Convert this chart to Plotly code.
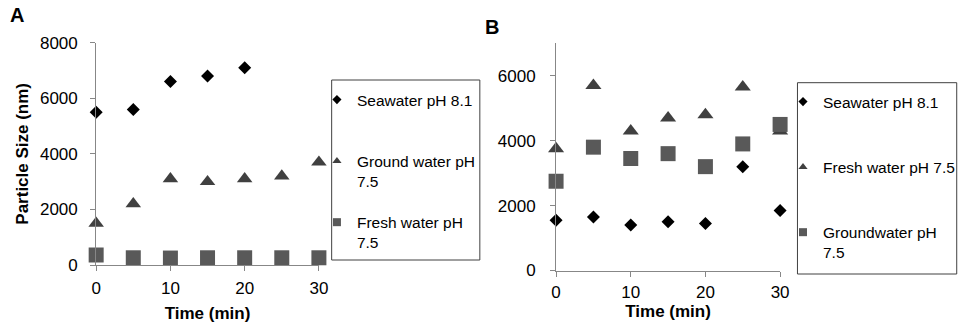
import plotly.graph_objects as go

# ---------------- data ----------------
time_a = [0, 5, 10, 15, 20, 25, 30]
time_a_sea = [0, 5, 10, 15, 20]
sea_a = [5500, 5600, 6600, 6800, 7100]
ground_a = [1500, 2200, 3100, 3000, 3100, 3200, 3700]
fresh_a = [360, 260, 250, 260, 260, 260, 260]

time_b = [0, 5, 10, 15, 20, 25, 30]
sea_b = [1550, 1650, 1400, 1500, 1450, 3200, 1850]
fresh_b = [3750, 5700, 4300, 4700, 4800, 5650, 4300]
ground_b = [2750, 3800, 3450, 3600, 3200, 3900, 4500]

names_a = ["Seawater pH 8.1", "Ground water pH<br>7.5", "Fresh water pH<br>7.5"]
names_b = ["Seawater pH 8.1", "Fresh water pH 7.5", "Groundwater pH<br>7.5"]

x_ticks = [0, 10, 20, 30]
y_ticks_a = [0, 2000, 4000, 6000, 8000]
y_ticks_b = [0, 2000, 4000, 6000]

# ---------------- style ----------------
FONT = "Liberation Sans, Arial, sans-serif"
C_SEA = "#000000"
C_TRI = "#404040"
C_SQ = "#595959"
AX = "#878787"

fig = go.Figure()

def add_series(x, y, name, sym, size, color, xa, ya, leg, grp, lsize):
    fig.add_trace(go.Scatter(x=x, y=y, mode="markers", name=name,
                             marker=dict(symbol=sym, size=size, color=color),
                             xaxis=xa, yaxis=ya, cliponaxis=False,
                             showlegend=False, hoverinfo="x+y"))
    # legend entry (small symbol as in the original)
    fig.add_trace(go.Scatter(x=[None], y=[None], mode="markers", name=name,
                             marker=dict(symbol=sym, size=lsize, color=color),
                             xaxis=xa, yaxis=ya, legend=leg, legendgroup=grp,
                             showlegend=True))

# Panel A
add_series(time_a_sea, sea_a, names_a[0] + "<br> ", "diamond", 10, C_SEA, "x", "y", "legend", "a1", 7)
add_series(time_a, ground_a, names_a[1], "triangle-up", 13.5, C_TRI, "x", "y", "legend", "a2", 8)
add_series(time_a, fresh_a, names_a[2], "square", 15, C_SQ, "x", "y", "legend", "a3", 8)

# Panel B
add_series(time_b, sea_b, names_b[0] + "<br> ", "diamond", 10, C_SEA, "x2", "y2", "legend2", "b1", 7)
add_series(time_b, fresh_b, names_b[1] + "<br> ", "triangle-up", 14, C_TRI, "x2", "y2", "legend2", "b2", 8)
add_series(time_b, ground_b, names_b[2], "square", 15, C_SQ, "x2", "y2", "legend2", "b3", 8)

W, H = 960, 323
def px(v): return v / W
def py(v): return 1 - v / H

axis_common = dict(showline=True, linecolor=AX, linewidth=1, ticks="outside",
                   ticklen=5, tickcolor=AX, showgrid=False, zeroline=False,
                   automargin=False,
                   tickfont=dict(family=FONT, size=17, color="#000"))
title_font = dict(family=FONT, size=17, color="#000", weight="bold")

fig.update_layout(
    template="none",
    width=W, height=H, margin=dict(l=0, r=0, t=0, b=0, pad=0),
    paper_bgcolor="white", plot_bgcolor="white",
    font=dict(family=FONT, color="#000"),
    xaxis=dict(domain=[px(98), px(325)], range=[0, 30], tickvals=x_ticks,
               anchor="y", ticklabelstandoff=3,
               title=dict(text="Time (min)", font=title_font, standoff=10),
               **axis_common),
    yaxis=dict(domain=[py(265), py(42.7)], range=[0, 8000], tickvals=y_ticks_a,
               anchor="x", ticklabelstandoff=9,
               title=dict(text="Particle Size (nm)", font=title_font, standoff=6),
               **axis_common),
    xaxis2=dict(domain=[px(566.7), px(795)], range=[0, 30], tickvals=x_ticks,
                anchor="y2", ticklabelstandoff=1,
                title=dict(text="Time (min)", font=title_font, standoff=3),
                **axis_common),
    yaxis2=dict(domain=[py(270.5), py(43.3)], range=[0, 7000], tickvals=y_ticks_b,
                anchor="x2", ticklabelstandoff=11, **axis_common),
    legend=dict(x=px(323), xanchor="left", y=py(83), yanchor="top",
                bgcolor="rgba(0,0,0,0)", borderwidth=0, valign="top",
                tracegroupgap=18, itemsizing="trace",
                font=dict(family=FONT, size=15.5, color="#000")),
    legend2=dict(x=px(798), xanchor="left", y=py(85), yanchor="top",
                 bgcolor="rgba(0,0,0,0)", borderwidth=0, valign="top",
                 tracegroupgap=22, itemsizing="trace",
                 font=dict(family=FONT, size=15.5, color="#000")),
    shapes=[
        dict(type="rect", xref="paper", yref="paper", x0=px(338), x1=px(489),
             y0=py(260), y1=py(80), line=dict(color="#404040", width=1)),
        dict(type="rect", xref="paper", yref="paper", x0=px(812.7), x1=px(975),
             y0=py(274), y1=py(82.7), line=dict(color="#404040", width=1)),
    ],
    annotations=[
        dict(text="<b>A</b>", xref="paper", yref="paper", x=px(8), y=py(2),
             xanchor="left", yanchor="top", showarrow=False,
             font=dict(family=FONT, size=20, color="#000")),
        dict(text="<b>B</b>", xref="paper", yref="paper", x=px(492), y=py(14),
             xanchor="left", yanchor="top", showarrow=False,
             font=dict(family=FONT, size=20, color="#000")),
    ],
)

fig.write_html("out.html")
